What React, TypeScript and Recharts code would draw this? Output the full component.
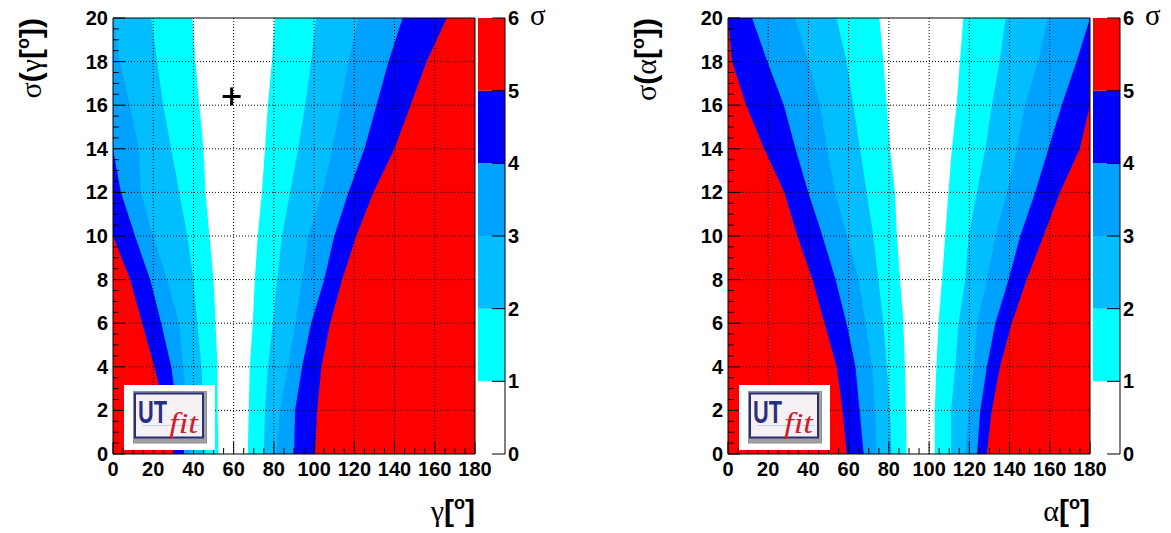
import React from 'react';
import { ComposedChart, Area, XAxis, YAxis, ReferenceLine, ReferenceDot, BarChart, Bar } from 'recharts';

// rows of the scan: sigma of the input angle, in degrees
const sigmaRows = [0, 2, 4, 6, 8, 10, 12, 14, 16, 18, 20];

// gamma panel: where each colour band ends (degrees), bottom row first
const gammaRedL = [30, 26, 20.5, 14.5, 8.5, 0, 0, 0, 0, 0, 0];
const gammaBlueL = [35, 32, 29, 24, 18.5, 11, 4, 0, 0, 0, 0];
const gamma34L = [39, 37, 35, 33, 27, 20, 14, 13, 8.5, 3.5, 0];
const gamma23L = [46, 45, 44, 42, 40, 37, 33, 29, 25, 22, 19];
const gammaCyanL = [52.5, 52, 52, 51, 50, 48, 46, 45, 43, 41, 39.5];
const gammaWhite = [67, 67.5, 68, 69.5, 70.5, 72, 74, 75.6, 77, 79, 80.5];
const gammaCyanR = [75, 75.5, 77, 79.5, 81.5, 84, 88, 92, 95.5, 98.5, 101];
const gamma23R = [81, 83, 87, 90.5, 94, 97, 104, 109, 113, 117, 122];
const gamma34R = [90, 90.5, 94, 98.5, 105, 110, 117, 125, 131, 137, 144];
const gammaBlueR = [100.5, 101.5, 103.7, 108, 114, 121, 129.5, 140, 148, 156, 166];

// alpha panel
const alphaRedL = [59, 57, 54, 48, 42, 34.5, 28, 18, 9, 2, 0];
const alphaBlueL = [67.5, 65.5, 63.4, 59, 53.5, 47, 40, 33.6, 27.8, 19.6, 12];
const alpha34L = [74, 73.3, 71.7, 68.5, 65, 59.3, 53.4, 49.3, 46, 40, 33.4];
const alpha23L = [81.4, 80.6, 79, 77.3, 74.8, 72.3, 69, 65.7, 62.4, 59, 54];
const alphaCyanL = [88.8, 88.5, 88, 87.2, 85.6, 84, 83, 80.6, 79, 77.3, 75.3];
const alphaWhite = [102.8, 102.8, 103.6, 104.7, 106.4, 108, 109.6, 111.3, 113.7, 115.3, 117];
const alphaCyanR = [110.9, 110.9, 113, 114.6, 118, 119.6, 123.7, 127.9, 131.2, 135, 138];
const alpha23R = [118, 119.6, 122.1, 123.8, 128.7, 132.9, 138.6, 143.6, 147.7, 154, 159];
const alpha34R = [123.8, 125.4, 128.7, 132.9, 139.5, 145.3, 152.7, 159.3, 165.9, 173.3, 180];
const alphaBlueR = [128.7, 131.2, 135.3, 141.1, 148.6, 156.9, 165.1, 175, 180, 180, 180];

// best value marker on the gamma plot
const gammaMarker = { x: 59, y: 16.4 };

const angleTicks = [0, 20, 40, 60, 80, 100, 120, 140, 160, 180];
const sigmaTicks = [0, 2, 4, 6, 8, 10, 12, 14, 16, 18, 20];
const levelTicks = [0, 1, 2, 3, 4, 5, 6];
const levelBands = [1, 1, 1, 1, 1, 1];

const levelColors = ['#ffffff', '#00ffff', '#00beff', '#00a2ff', '#0000ff', '#ff0000'];
const bandColors = ['#ff0000', '#0000ff', '#00a2ff', '#00beff', '#00ffff', '#ffffff', '#00ffff', '#00beff', '#00a2ff', '#0000ff', '#ff0000'];

const angleMinor: number[] = [];
for (let v = 0; v <= 180; v += 5) angleMinor.push(v);
const sigmaMinor: number[] = [];
for (let v = 0; v <= 20; v += 0.5) sigmaMinor.push(v);

const FONT = '"Liberation Sans", Arial, Helvetica, sans-serif';
const SERIF = '"Liberation Serif", "DejaVu Serif", serif';

function buildRows(edges: number[][]) {
  return sigmaRows.map((y, i) => {
    const row: any = { y };
    let prev = 0;
    edges.forEach((e, k) => {
      const v = Math.max(prev, e[i]);
      row['b' + k] = v - prev;
      prev = v;
    });
    row['b' + edges.length] = 180 - prev;
    return row;
  });
}

const gammaRows = buildRows([gammaRedL, gammaBlueL, gamma34L, gamma23L, gammaCyanL, gammaWhite, gammaCyanR, gamma23R, gamma34R, gammaBlueR]);
const alphaRows = buildRows([alphaRedL, alphaBlueL, alpha34L, alpha23L, alphaCyanL, alphaWhite, alphaCyanR, alpha23R, alpha34R, alphaBlueR]);

const XTick = (props: any) => {
  const { x, y, payload } = props;
  const major = payload.value % 20 === 0;
  return (
    <g>
      <line x1={x} y1={y} x2={x} y2={y - (major ? 12 : 6)} stroke="#000" />
      {major && (
        <text x={x} y={y + 22} textAnchor="middle" fontSize={20} fontWeight="bold" fontFamily={FONT} fill="#000">
          {payload.value}
        </text>
      )}
    </g>
  );
};

const YTick = (props: any) => {
  const { x, y, payload } = props;
  const major = payload.value % 2 === 0;
  return (
    <g>
      <line x1={x} y1={y} x2={x + (major ? 12 : 6)} y2={y} stroke="#000" />
      {major && (
        <text x={x - 5} y={y + 7} textAnchor="end" fontSize={20} fontWeight="bold" fontFamily={FONT} fill="#000">
          {payload.value}
        </text>
      )}
    </g>
  );
};

const BarTick = (props: any) => {
  const { x, y, payload } = props;
  return (
    <g>
      <line x1={x} y1={y} x2={x - 13} y2={y} stroke="#000" />
      <text x={x + 3} y={y + 7} textAnchor="start" fontSize={20} fontWeight="bold" fontFamily={FONT} fill="#000">
        {payload.value}
      </text>
    </g>
  );
};

const Cross = (p: any) => (
  <g>
    <line x1={p.cx - 9} y1={p.cy} x2={p.cx + 9} y2={p.cy} stroke="#000" strokeWidth={3} />
    <line x1={p.cx} y1={p.cy - 9} x2={p.cx} y2={p.cy + 9} stroke="#000" strokeWidth={3} />
  </g>
);

const Panel = ({ left, rows, marker }: { left: number; rows: any[]; marker?: { x: number; y: number } }) => (
  <div style={{ position: 'absolute', left, top: 0 }}>
    <ComposedChart width={500} height={533} data={rows} layout="vertical" margin={{ top: 18, right: 25, bottom: 49, left: 0 }}>
      <XAxis type="number" domain={[0, 180]} ticks={angleMinor} interval={0} tick={<XTick />} tickLine={false} tickSize={0} tickMargin={0} height={30} axisLine={{ stroke: '#000' }} allowDataOverflow />
      <YAxis type="number" dataKey="y" domain={[0, 20]} reversed ticks={sigmaMinor} interval={0} tick={<YTick />} tickLine={false} tickSize={0} tickMargin={0} width={113} axisLine={{ stroke: '#000' }} allowDataOverflow />
      {bandColors.map((c, i) => (
        <Area key={i} dataKey={'b' + i} stackId="s" type="linear" fill={c} fillOpacity={1} stroke={c} strokeWidth={1} dot={false} activeDot={false} isAnimationActive={false} />
      ))}
      {angleTicks.slice(1, -1).map((v) => (
        <ReferenceLine key={'gx' + v} x={v} stroke="#000" strokeDasharray="1 2" />
      ))}
      {sigmaTicks.slice(1, -1).map((v) => (
        <ReferenceLine key={'gy' + v} y={v} stroke="#000" strokeDasharray="1 2" />
      ))}
      <ReferenceLine x={180} stroke="#000" />
      <ReferenceLine y={20} stroke="#000" />
      {marker && <ReferenceDot x={marker.x} y={marker.y} shape={<Cross />} />}
    </ComposedChart>
  </div>
);

const levelRow: any = { name: 'z' };
levelBands.forEach((v, i) => (levelRow['l' + i] = v));

const ColorBar = ({ left }: { left: number }) => (
  <div style={{ position: 'absolute', left, top: 0 }}>
    <BarChart width={67} height={533} data={[levelRow]} margin={{ top: 18, right: 0, bottom: 79, left: 0 }} barCategoryGap={0}>
      <XAxis dataKey="name" hide />
      <YAxis orientation="right" type="number" domain={[0, 6]} ticks={levelTicks} interval={0} tick={<BarTick />} tickLine={false} tickSize={0} tickMargin={0} width={40} axisLine={{ stroke: '#000' }} />
      {levelColors.map((c, i) => (
        <Bar key={i} dataKey={'l' + i} stackId="c" fill={c} isAnimationActive={false} />
      ))}
    </BarChart>
  </div>
);

const Logo = ({ dx }: { dx: number }) => (
  <g transform={`translate(${dx},0)`}>
    <rect x={124} y={385} width={91} height={65} fill="#fff" />
    <rect x={133.5} y={391.5} width={73} height={51.5} fill="#a0a0a0" stroke="#909090" />
    <rect x={135} y={393.5} width={68} height={44} fill="#f6f1f4" stroke="#2a2f78" strokeWidth={2} />
    <line x1={142} y1={425.5} x2={200} y2={425.5} stroke="#c8d0ee" strokeWidth={1} />
    <text x={138} y={423} fontSize={32} fontWeight="bold" fontFamily={FONT} fill="#2a3080" textLength={29} lengthAdjust="spacingAndGlyphs">
      UT
    </text>
    <text x={169} y={433} fontSize={30} fontStyle="italic" fontFamily={SERIF} fill="#cc1f2a" textLength={29} lengthAdjust="spacingAndGlyphs">
      fit
    </text>
  </g>
);

const AngleLabel = ({ x, letter }: { x: number; letter: string }) => (
  <text x={x} y={521} textAnchor="end" fontSize={30} fontWeight="bold" fontFamily={FONT} fill="#000">
    <tspan fontFamily={SERIF} fontWeight="normal">{letter}</tspan>
    <tspan>[</tspan>
    <tspan fontSize={18} dy={-12}>o</tspan>
    <tspan dy={12}>]</tspan>
  </text>
);

const SigmaLabel = ({ x, letter }: { x: number; letter: string }) => (
  <text transform={`translate(${x},18) rotate(-90)`} textAnchor="end" fontSize={30} fontWeight="bold" fontFamily={FONT} fill="#000">
    <tspan fontFamily={SERIF} fontWeight="normal">σ</tspan>
    <tspan>(</tspan>
    <tspan fontFamily={SERIF} fontWeight="normal">{letter}</tspan>
    <tspan>[</tspan>
    <tspan fontSize={18} dy={-12}>o</tspan>
    <tspan dy={12}>])</tspan>
  </text>
);

export default function App() {
  return (
    <div style={{ position: 'absolute', left: 0, top: 0, width: 1171, height: 533, background: '#fff', overflow: 'hidden' }}>
      <Panel left={0} rows={gammaRows} marker={gammaMarker} />
      <ColorBar left={478} />
      <Panel left={615} rows={alphaRows} />
      <ColorBar left={1093} />
      <svg width={1171} height={533} style={{ position: 'absolute', left: 0, top: 0, pointerEvents: 'none' }}>
        <SigmaLabel x={41} letter="γ" />
        <SigmaLabel x={656} letter="α" />
        <AngleLabel x={475} letter="γ" />
        <AngleLabel x={1090} letter="α" />
        <text x={530} y={25} fontSize={29} fontFamily={SERIF} fill="#000">σ</text>
        <text x={1145} y={25} fontSize={29} fontFamily={SERIF} fill="#000">σ</text>
        <Logo dx={0} />
        <Logo dx={615} />
      </svg>
    </div>
  );
}
